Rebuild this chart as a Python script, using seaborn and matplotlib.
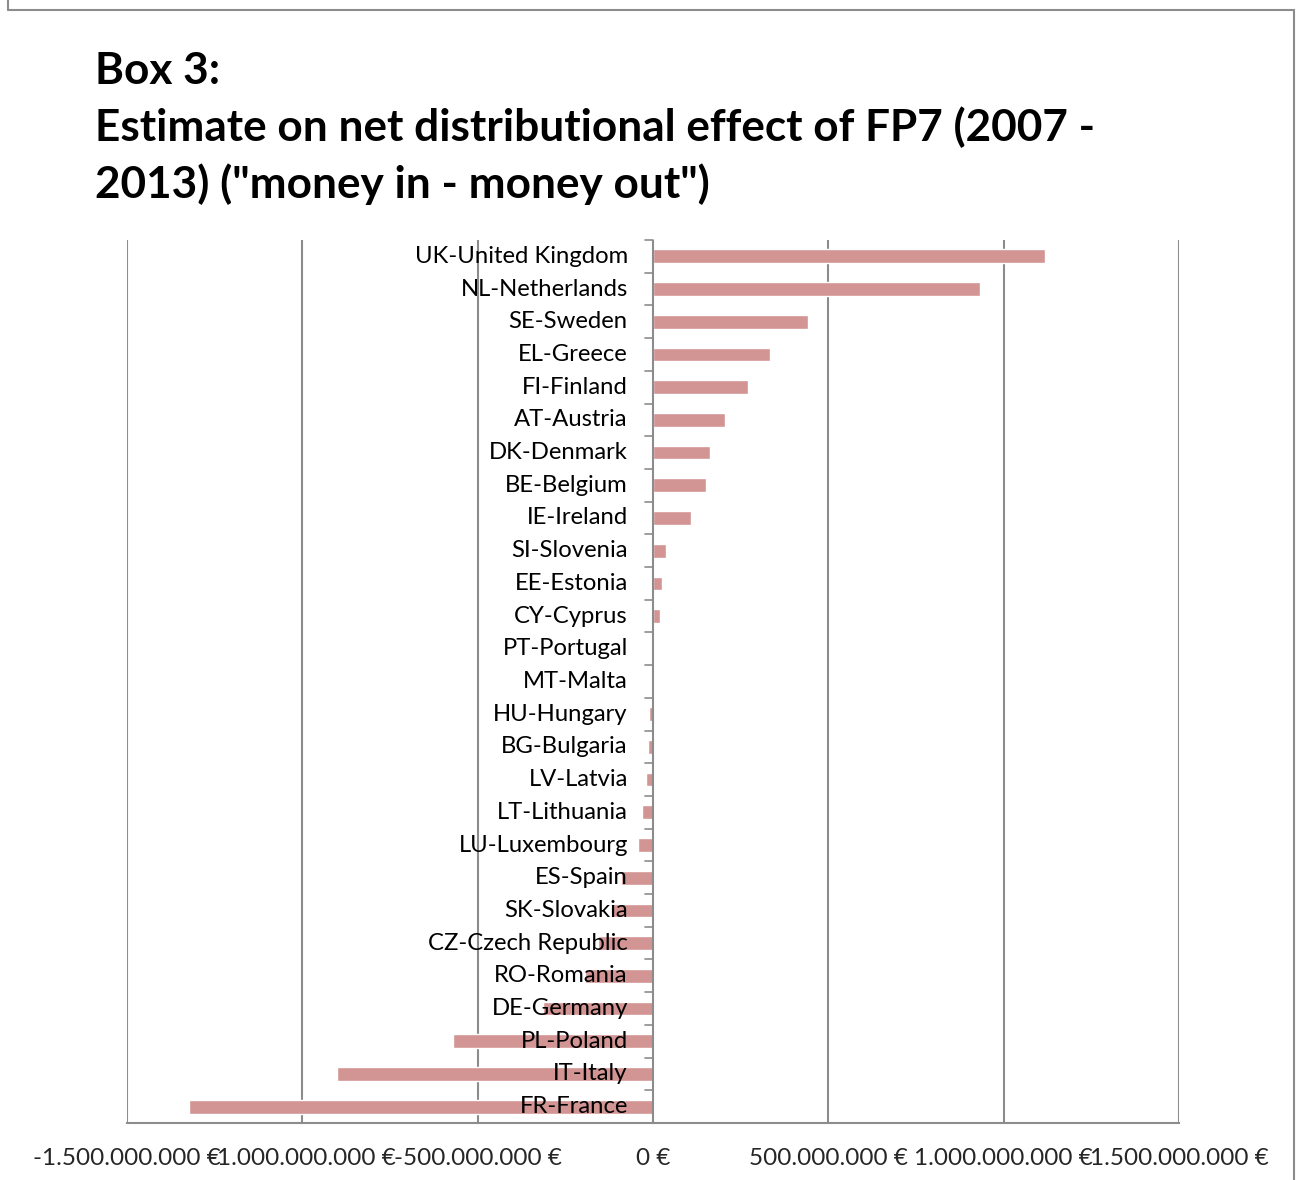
import numpy as np
import pandas as pd
import matplotlib
matplotlib.use('Agg')
import matplotlib.pyplot as plt
import matplotlib.ticker as mticker
from matplotlib.lines import Line2D
import seaborn as sns

# ── данные ───────────────────────────────────────────────────────────
countries = ['UK-United Kingdom', 'NL-Netherlands', 'SE-Sweden', 'EL-Greece',
             'FI-Finland', 'AT-Austria', 'DK-Denmark', 'BE-Belgium', 'IE-Ireland',
             'SI-Slovenia', 'EE-Estonia', 'CY-Cyprus', 'PT-Portugal', 'MT-Malta',
             'HU-Hungary', 'BG-Bulgaria', 'LV-Latvia', 'LT-Lithuania',
             'LU-Luxembourg', 'ES-Spain', 'SK-Slovakia', 'CZ-Czech Republic',
             'RO-Romania', 'DE-Germany', 'PL-Poland', 'IT-Italy', 'FR-France']
net_effect_mio = [1119, 933, 441, 333, 270, 205, 162, 151, 108,
                  37, 26, 20, 2, 0,
                  -12, -15, -20, -30, -44, -91, -117, -156,
                  -193, -315, -571, -901, -1324]
x_ticks = [-1.5e9, -1.0e9, -0.5e9, 0, 0.5e9, 1.0e9, 1.5e9]

df = pd.DataFrame({'country': countries,
                   'value': np.array(net_effect_mio) * 1e6})

# ── рисунок ──────────────────────────────────────────────────────────
sns.set_style('white')
plt.rcParams['font.family'] = ['Lato', 'DejaVu Sans']

W, H = 1296, 1180
fig = plt.figure(figsize=(W / 100, H / 100), dpi=100)
ax = fig.add_axes([127 / W, 1 - 1123 / H, (1179 - 127) / W, (1123 - 240) / H])

sns.barplot(data=df, x='value', y='country', orient='h', color='#D39494',
            saturation=1, width=0.42, ax=ax, zorder=3)

ax.set_xlim(-1.5e9, 1.5e9)
ax.set_ylim(len(countries) - 0.5, -0.5)
ax.set_xlabel('')
ax.set_ylabel('')

# вертикальные линии сетки
for xv in x_ticks:
    if xv != 0:
        ax.axvline(xv, color='#8C8C8C', lw=1.5, zorder=1)

for s in ['top', 'right', 'left']:
    ax.spines[s].set_visible(False)
ax.spines['bottom'].set_color('#8C8C8C')
ax.spines['bottom'].set_linewidth(1.5)
ax.axvline(0, color='#8C8C8C', lw=1.5, zorder=4)

ax.xaxis.set_major_locator(mticker.FixedLocator(x_ticks))
ax.xaxis.set_major_formatter(mticker.FuncFormatter(
    lambda v, p: f'{v:,.0f} €'.replace(',', '.')))
ax.tick_params(axis='x', length=5, width=1.2, color='#8C8C8C',
               labelsize=17.5, pad=13)

# подписи стран справа выровнены у нулевой оси
ax.set_yticks([])
for i, name in enumerate(countries):
    ax.text(-0.072e9, i, name, ha='right', va='center', fontsize=17.2,
            color='black', zorder=5)
# засечки между категориями
for b in np.arange(-0.5, len(countries), 1.0):
    ax.plot([-0.022e9, 0], [b, b], color='#8C8C8C', lw=1.2, zorder=4,
            clip_on=False)

# заголовок
fig.text(95 / W, 1 - 51 / H,
         'Box 3:\nEstimate on net distributional effect of FP7 (2007 -\n'
         '2013) ("money in - money out")',
         ha='left', va='top', fontsize=31.8, fontweight='bold',
         color='black', linespacing=1.44)

# рамка
for xs, ys in [([8, 8], [0, 10]), ([8, 1294], [10, 10]), ([1294, 1294], [10, 1180])]:
    fig.add_artist(Line2D([x / W for x in xs], [1 - y / H for y in ys],
                          color='#8C8C8C', lw=1.5))

plt.savefig('out.png', dpi=100)
plt.close()
